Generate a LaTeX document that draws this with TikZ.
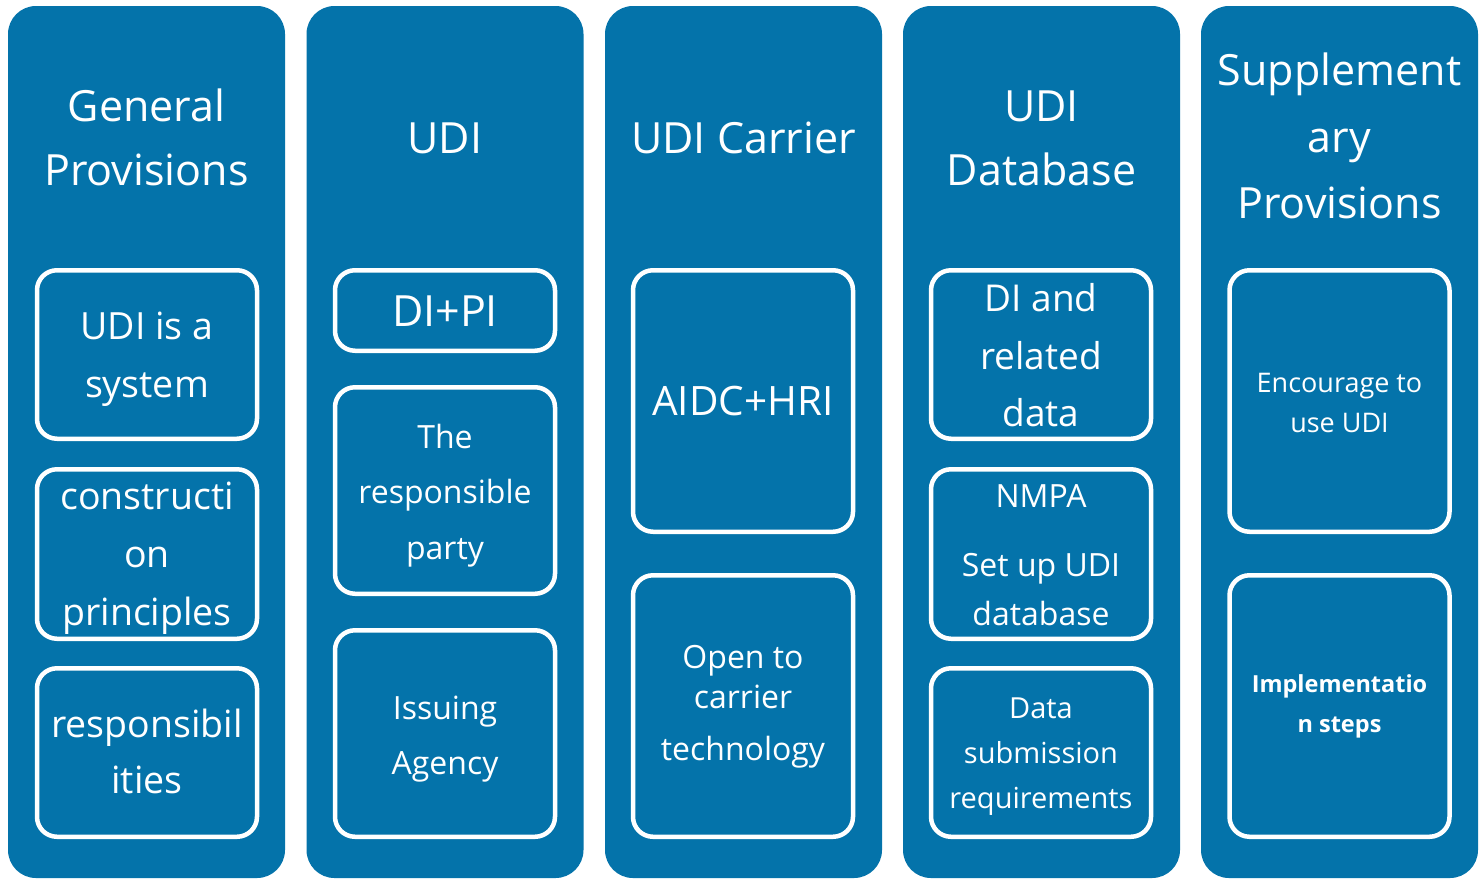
\documentclass[tikz,border=0pt]{standalone}
\usepackage{fontspec}
\setmainfont{Open Sans}
\definecolor{colblue}{RGB}{4,115,170}
\begin{document}
\begin{tikzpicture}[x=1pt,y=-1pt,
  col/.style={fill=colblue,draw=none,rounded corners=28pt,minimum width=277pt,minimum height=872pt,inner sep=0pt,outer sep=0pt},
  ibox/.style={draw=white,line width=4.5pt,rounded corners=20pt,minimum width=220pt,inner sep=0pt,outer sep=0pt},
  txt/.style={text=white,anchor=base,inner sep=0pt},
  fs/.style={font=\fontsize{#1}{#1}\selectfont}]
\useasboundingbox (0,0) rectangle (1479,879);
\fill[white] (0,0) rectangle (1479,879);
% columns
\node[col] (c1) at (146.5,442) {};
\node[col] (c2) at (445,442) {};
\node[col] (c3) at (743.5,442) {};
\node[col] (c4) at (1041.5,442) {};
\node[col] (c5) at (1339.5,442) {};
% titles
\node[txt,fs=43] (h1a) at (146.5,121) {General};
\node[txt,fs=43] (h1b) at (146.5,185) {Provisions};
\node[txt,fs=43] (h2) at (445,153) {UDI};
\node[txt,fs=43] (h3) at (743.5,153) {UDI Carrier};
\node[txt,fs=43] (h4a) at (1041.5,121) {UDI};
\node[txt,fs=43] (h4b) at (1041.5,185) {Database};
\node[txt,fs=43] (h5a) at (1339.5,85) {Supplement};
\node[txt,fs=43] (h5b) at (1339.5,152) {ary};
\node[txt,fs=43] (h5c) at (1339.5,218) {Provisions};
% column 1 boxes
\node[ibox,minimum height=168.5pt] (b11) at (147,354.5) {};
\node[ibox,minimum height=169.5pt] (b12) at (147,554) {};
\node[ibox,minimum height=168.5pt] (b13) at (147,752.5) {};
\node[txt,fs=37.5] (t11a) at (147,339) {UDI is a};
\node[txt,fs=37.5] (t11b) at (147,397) {system};
\node[txt,fs=37.5] (t12a) at (147,509) {constructi};
\node[txt,fs=37.5] (t12b) at (147,567) {on};
\node[txt,fs=37.5] (t12c) at (147,625) {principles};
\node[txt,fs=37.5] (t13a) at (147,737) {responsibil};
\node[txt,fs=37.5] (t13b) at (147,793) {ities};
% column 2 boxes
\node[ibox,minimum height=80.5pt] (b21) at (445,310.5) {};
\node[ibox,minimum height=206.5pt] (b22) at (445,490.5) {};
\node[ibox,minimum height=206.5pt] (b23) at (445,733.5) {};
\node[txt,fs=43] (t21) at (445,326) {DI+PI};
\node[txt,fs=32] (t22a) at (445,448) {The};
\node[txt,fs=32] (t22b) at (445,503) {responsible};
\node[txt,fs=32] (t22c) at (445,559) {party};
\node[txt,fs=32] (t23a) at (445,719) {Issuing};
\node[txt,fs=32] (t23b) at (445,774) {Agency};
% column 3 boxes
\node[ibox,minimum height=261.5pt] (b31) at (743,401) {};
\node[ibox,minimum height=261.5pt] (b32) at (743,706) {};
\node[txt,fs=40.5] (t31) at (743,415) {AIDC+HRI};
\node[txt,fs=32] (t32a) at (743,668) {Open to};
\node[txt,fs=32] (t32b) at (743,708) {carrier};
\node[txt,fs=32] (t32c) at (743,760) {technology};
% column 4 boxes
\node[ibox,minimum height=168.5pt] (b41) at (1041,354.5) {};
\node[ibox,minimum height=169.5pt] (b42) at (1041,554) {};
\node[ibox,minimum height=168.5pt] (b43) at (1041,752.5) {};
\node[txt,fs=37] (t41a) at (1041,311) {DI and};
\node[txt,fs=37] (t41b) at (1041,369) {related};
\node[txt,fs=37] (t41c) at (1041,426) {data};
\node[txt,fs=32] (t42a) at (1041,507) {NMPA};
\node[txt,fs=32] (t42b) at (1041,576) {Set up UDI};
\node[txt,fs=32] (t42c) at (1041,625) {database};
\node[txt,fs=29] (t43a) at (1041,718) {Data};
\node[txt,fs=29] (t43b) at (1041,763) {submission};
\node[txt,fs=29] (t43c) at (1041,808) {requirements};
% column 5 boxes
\node[ibox,minimum height=261.5pt] (b51) at (1339.5,401) {};
\node[ibox,minimum height=261.5pt] (b52) at (1339.5,706) {};
\node[txt,fs=27] (t51a) at (1339.5,392) {Encourage to};
\node[txt,fs=27] (t51b) at (1339.5,432) {use UDI};
\node[txt,font=\bfseries\fontsize{23.5}{23.5}\selectfont] (t52a) at (1339.5,692) {Implementatio};
\node[txt,font=\bfseries\fontsize{23.5}{23.5}\selectfont] (t52b) at (1339.5,732) {n steps};
\end{tikzpicture}
\end{document}
